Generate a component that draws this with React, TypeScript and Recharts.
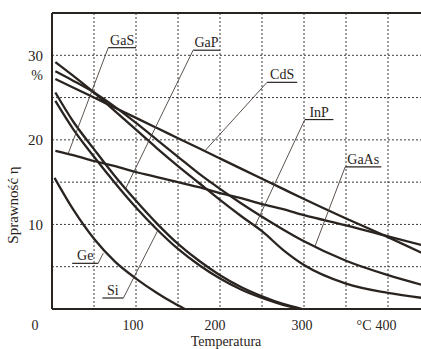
import React from "react";
import {
  LineChart, Line, XAxis, YAxis, CartesianGrid, ReferenceLine, ReferenceDot,
} from "recharts";

// temperatura [°C] / sprawność [%]
const temps = [4, 25, 50, 75, 100, 125, 150, 175, 200, 225, 250, 275, 300, 350, 400, 450];
const cdsEta = [27.2, 26.2, 25.0, 23.8, 22.6, 21.4, 20.2, 19.0, 17.8, 16.6, 15.4, 14.2, 13.0, 10.7, 8.5, 6.2];
const gasEta = [18.7, 18.2, 17.5, 16.9, 16.2, 15.6, 15.0, 14.4, 13.7, 13.1, 12.4, 11.8, 11.1, 9.9, 8.6, 7.3];
const inpEta = [29.2, 27.6, 25.6, 23.4, 21.2, 19.0, 16.9, 14.9, 12.9, 11.0, 9.2, 7.0, 5.2, 3.0, 1.9, 1.2];
const gaasEta = [28.1, 27.0, 25.6, 23.9, 22.0, 20.0, 18.0, 16.0, 14.2, 12.5, 10.9, 9.4, 8.0, 5.7, 4.0, 2.6];

const gapTemps = [4, 25, 50, 75, 100, 125, 150, 175, 200, 225, 250, 275, 298];
const gapEta = [25.6, 22.2, 18.9, 15.7, 12.8, 10.1, 7.7, 5.7, 4.0, 2.6, 1.5, 0.6, 0];
const siTemps = [4, 25, 50, 75, 100, 125, 150, 175, 200, 225, 250, 275, 295];
const siEta = [24.6, 21.3, 18.0, 14.9, 12.0, 9.4, 7.1, 5.2, 3.6, 2.3, 1.3, 0.5, 0];
const geTemps = [3, 25, 50, 75, 100, 125, 145, 158];
const geEta = [15.5, 11.8, 8.3, 5.6, 3.6, 1.9, 0.7, 0];

const xTicks = [0, 50, 100, 150, 200, 250, 300, 350, 400, 450];
const yTicks = [0, 5, 10, 15, 20, 25, 30, 35];

// opisy krzywych: tekst, podkreślenie (t1..t2 przy eta), odnośnik do punktu na krzywej
const labels = [
  { name: "GaS", t1: 67, t2: 100, eta: 30.9, px: 19, py: 18.3 },
  { name: "GaP", t1: 168, t2: 200, eta: 30.6, px: 88, py: 14.3 },
  { name: "CdS", t1: 256, t2: 292, eta: 26.8, px: 182, py: 18.7 },
  { name: "InP", t1: 301, t2: 335, eta: 22.4, px: 242, py: 9.9 },
  { name: "GaAs", t1: 349, t2: 392, eta: 16.8, px: 313, py: 7.4 },
  { name: "Ge", t1: 24, t2: 55, eta: 5.4, px: 61, py: 6.6 },
  { name: "Si", t1: 60, t2: 85, eta: 1.3, px: 126, py: 9.3 },
];

const rows = (t: number[], v: number[]) => t.map((x, i) => ({ t: x, eta: v[i] }));

const FONT = "'Liberation Serif', 'DejaVu Serif', serif";
const INK = "#2a2421";

const XTick = ({ x, payload }: any) => {
  const v = payload.value;
  if (v % 100 !== 0 || v > 400) return <g />;
  const shift: Record<number, number> = { 0: -17, 100: -3, 200: -5, 300: -2, 400: -2 };
  return (
    <g>
      {v === 400 && (
        <text x={x - 24} y={330} textAnchor="middle" fontSize={14} fontFamily={FONT} fill={INK}>°C</text>
      )}
      <text x={x + shift[v]} y={330} textAnchor="middle" fontSize={14} fontFamily={FONT} fill={INK}>
        {v}
      </text>
    </g>
  );
};

const YTick = ({ y, payload }: any) => {
  const v = payload.value;
  if (v !== 10 && v !== 20 && v !== 30) return <g />;
  return (
    <g>
      <text x={43} y={y} dy="0.35em" textAnchor="end" fontSize={15} fontFamily={FONT} fill={INK}>{v}</text>
      {v === 30 && (
        <text x={37} y={y + 20} dy="0.35em" textAnchor="middle" fontSize={14} fontFamily={FONT} fill={INK}>%</text>
      )}
    </g>
  );
};

export default function App() {
  const curves = [
    { key: "CdS", data: rows(temps, cdsEta) },
    { key: "GaS", data: rows(temps, gasEta) },
    { key: "InP", data: rows(temps, inpEta) },
    { key: "GaAs", data: rows(temps, gaasEta) },
    { key: "GaP", data: rows(gapTemps, gapEta) },
    { key: "Si", data: rows(siTemps, siEta) },
    { key: "Ge", data: rows(geTemps, geEta) },
  ];

  return (
    <div style={{ position: "absolute", left: 0, top: 0, width: 421, height: 349, overflow: "hidden", background: "#fff" }}>
      <LineChart width={440} height={349} margin={{ top: 13, right: 10, bottom: 10, left: 0 }}>
        <CartesianGrid stroke="#3a3a3a" strokeDasharray="2 2" strokeWidth={1} />
        <XAxis
          type="number" dataKey="t" domain={[0, 450]} ticks={xTicks} height={30}
          axisLine={{ stroke: INK, strokeWidth: 2 }} tickLine={false} tick={<XTick />} interval={0}
        />
        <YAxis
          type="number" domain={[0, 35]} ticks={yTicks} width={52}
          axisLine={{ stroke: INK, strokeWidth: 2 }} tickLine={false} tick={<YTick />} interval={0}
        />
        <ReferenceLine y={35} stroke={INK} strokeWidth={2} ifOverflow="visible" />
        {curves.map((c) => (
          <Line
            key={c.key} data={c.data} dataKey="eta" type="monotone"
            stroke={INK} strokeWidth={2.3} dot={false} isAnimationActive={false}
          />
        ))}
        {labels.map((l) => (
          <ReferenceLine
            key={l.name + "-u"}
            segment={[{ x: l.t1, y: l.eta }, { x: l.t2, y: l.eta }]}
            stroke={INK} strokeWidth={1.2}
          />
        ))}
        {labels.map((l) => {
          const fromLeft = l.px < l.t1;
          return (
            <ReferenceLine
              key={l.name + "-l"}
              segment={[{ x: fromLeft ? l.t1 : l.t2, y: l.eta }, { x: l.px, y: l.py }]}
              stroke="#4a403a" strokeWidth={0.9}
            />
          );
        })}
        {labels.map((l) => (
          <ReferenceDot
            key={l.name + "-t"} x={(l.t1 + l.t2) / 2} y={l.eta} r={1}
            fill="none" stroke="none"
            label={{ value: l.name, position: "top", offset: 2, fontSize: 14, fontFamily: FONT, fill: INK }}
          />
        ))}
      </LineChart>
      <svg width={421} height={349} style={{ position: "absolute", left: 0, top: 0, pointerEvents: "none" }}>
        <text x={226} y={346} textAnchor="middle" fontSize={14} fontFamily={FONT} fill={INK}>Temperatura</text>
        <text
          x={18} y={205} textAnchor="middle" fontSize={15} fontFamily={FONT} fill={INK}
          transform="rotate(-90 18 205)"
        >
          Sprawność η
        </text>
      </svg>
    </div>
  );
}
